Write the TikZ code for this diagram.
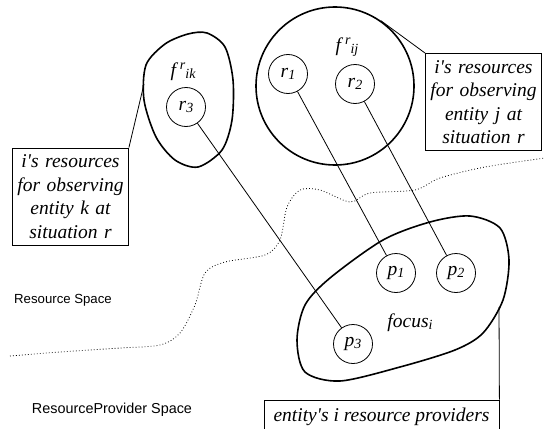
\documentclass[tikz,border=0pt]{standalone}
\usepackage{fontspec}
\setmainfont{Liberation Serif}
\setsansfont{Liberation Sans}
\usepackage{tikz}
\usetikzlibrary{positioning}
\newcommand{\lowtxt}[1]{\raisebox{-1.5pt}{\fontsize{14}{14}\selectfont\itshape #1}}
\newcommand{\uptxt}[1]{\raisebox{7pt}{\fontsize{14}{14}\selectfont\itshape #1}}

\begin{document}
\begin{tikzpicture}[x=1pt,y=-1pt,
  res/.style={draw,circle,line width=0.8pt,minimum size=39pt,inner sep=0pt,font=\fontsize{19.5}{23.5}\selectfont\itshape},
  note/.style={draw,line width=0.8pt,align=center,text width=112pt,minimum height=97pt,inner sep=2pt,font=\fontsize{19.5}{23.5}\selectfont\itshape},
  blob/.style={line width=1.6pt},
  link/.style={line width=0.8pt},
  tag/.style={font=\fontsize{19.5}{23.5}\selectfont\itshape},
  space/.style={font=\sffamily\fontsize{13.2}{15}\selectfont}]
  \useasboundingbox (0,0) rectangle (545,428);
  \clip (0,0) rectangle (545,428);

  % resource sets
  \draw[blob] plot[smooth cycle] coordinates {(207,33) (225,47) (233,80) (232,120) (222,150) (198,167) (175,160) (156,137) (144,100) (146,65) (165,44) (188,34)};
  \coordinate (ikedge) at (144,84);
  \node[tag] (fik) at (183,72) {f\hspace{4pt}\uptxt{r}\lowtxt{ik}};
  \node[res] (r3) at (186,107) {r\lowtxt{3}};

  \node[draw,circle,blob,minimum size=158pt] (fij) at (335,86) {};
  \node[tag] (fijlab) at (347,47) {f\hspace{4pt}\uptxt{r}\lowtxt{ij}};
  \node[res] (r1) at (288,74) {r\lowtxt{1}};
  \node[res] (r2) at (355,84) {r\lowtxt{2}};

  % providers
  \draw[blob] plot[smooth cycle] coordinates {(297,340) (305,305) (330,278) (383,240) (430,222) (470,216) (500,228) (509,260) (503,300) (483,333) (455,350) (400,367) (340,381) (305,372)};
  \coordinate (focedge) at (499,307);
  \node[tag] (focus) at (410,323) {focus\lowtxt{i}};
  \node[res] (p1) at (396,273) {p\lowtxt{1}};
  \node[res] (p2) at (456,273) {p\lowtxt{2}};
  \node[res] (p3) at (353,344) {p\lowtxt{3}};

  % notes
  \node[note] (jbox) at (483.5,102) {i\textquotesingle s resources\\for observing\\entity j at\\situation r};
  \node[note] (kbox) at (70.5,196.5) {i\textquotesingle s resources\\for observing\\entity k at\\situation r};
  \node[draw,line width=0.8pt,minimum width=235pt,minimum height=34pt,inner sep=0pt,tag] (pbox) at (381.5,417) {entity\textquotesingle s i resource providers};

  \draw[link] (fij.55) -- (jbox.north west);
  \draw[link] (ikedge) -- (kbox.north east);
  \draw[link] (focedge) -- (pbox.north east);
  \draw[link] (r3) -- (p3);
  \draw[link] (r1) -- (p1);
  \draw[link] (r2) -- (p2);

  % border between the two spaces
  \draw[line width=0.8pt,dash pattern=on 0.8pt off 2.2pt] plot[smooth] coordinates {(10,356) (60,352) (120,348) (160,345) (180,333) (195,305) (205,273) (225,262) (265,255) (280,240) (287,207) (300,190) (320,190) (350,202) (370,193) (415,190) (440,178) (485,167) (545,158)};
  \node[space] (rs) at (63,300) {Resource Space};
  \node[space,font=\sffamily\fontsize{14.4}{16}\selectfont] (rps) at (112,410) {ResourceProvider Space};
\end{tikzpicture}
\end{document}
